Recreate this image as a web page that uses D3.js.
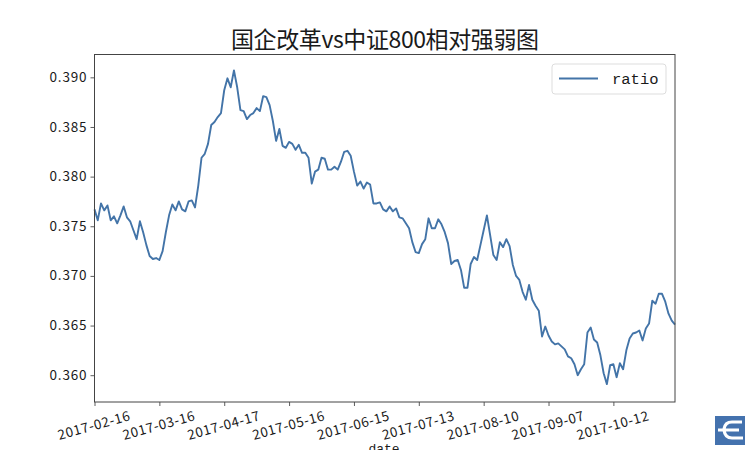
<!DOCTYPE html>
<html>
<head>
<meta charset="utf-8">
<script src="https://cdn.jsdelivr.net/npm/d3@7"></script>
<style>
  html, body { margin: 0; padding: 0; background: #fff; overflow: hidden; }
  text { fill: #1a1a1a; }
</style>
</head>
<body>
<div id="chart"></div>
<script>
const chartTitle = "国企改革vs中证800相对强弱图";
const seriesName = "ratio";
const xAxisName = "date";

// every 20th trading day gets a label
const tickDates = ["2017-02-16", "2017-03-16", "2017-04-17", "2017-05-16", "2017-06-15",
    "2017-07-13", "2017-08-10", "2017-09-07", "2017-10-12"];
const yTicks = [0.360, 0.365, 0.370, 0.375, 0.380, 0.385, 0.390];

const ratio = [
    .3767, .3756, .3773, .3766, .3771, .3756, .3760, .3753, .3761, .3770,
    .3759, .3755, .3746, .3737, .3755, .3744, .3731, .3720, .3717, .3718,
    .3716, .3725, .3744, .3761, .3772, .3766, .3775, .3767, .3765, .3775,
    .3776, .3769, .3791, .3819, .3823, .3833, .3852, .3855, .3860, .3864,
    .3887, .3899, .3890, .3907, .3890, .3867, .3866, .3858, .3862, .3864,
    .3869, .3866, .3881, .3880, .3872, .3856, .3836, .3848, .3831, .3829,
    .3835, .3833, .3827, .3832, .3824, .3824, .3819, .3793, .3805, .3807,
    .3819, .3818, .3807, .3807, .3810, .3807, .3815, .3825, .3826, .3821,
    .3805, .3791, .3795, .3788, .3794, .3792, .3773, .3773, .3774, .3767,
    .3765, .3770, .3765, .3768, .3759, .3758, .3753, .3748, .3734, .3724,
    .3723, .3732, .3737, .3758, .3748, .3748, .3757, .3752, .3744, .3733,
    .3712, .3715, .3716, .3706, .3688, .3688, .3712, .3719, .3716, .3731,
    .3746, .3761, .3741, .3721, .3716, .3734, .3729, .3737, .3730, .3711,
    .3700, .3696, .3684, .3676, .3691, .3676, .3670, .3665, .3639, .3649,
    .3640, .3634, .3631, .3632, .3629, .3626, .3619, .3617, .3611, .3600,
    .3606, .3611, .3643, .3648, .3636, .3633, .3620, .3602, .3591, .3610,
    .3611, .3598, .3612, .3606, .3625, .3637, .3642, .3643, .3645, .3635,
    .3647, .3652, .3675, .3672, .3682, .3682, .3674, .3662, .3655, .3651
];

const width = 750, height = 450;
const margin = {top: 54.5, right: 75, bottom: 48, left: 94.5};
const tickStep = 20;
const lineColor = "#4374a8";
const labelFont = "'Noto Sans CJK SC', sans-serif";
const monoFont = "'Liberation Mono', monospace";

const svg = d3.select("#chart").append("svg")
    .attr("width", width)
    .attr("height", height)
    .style("display", "block");

const x = d3.scaleLinear()
    .domain([0, ratio.length - 1])
    .range([margin.left, width - margin.right]);

const y = d3.scaleLinear()
    .domain([0.3573, 0.3923])
    .range([height - margin.bottom, margin.top]);

// line
const line = d3.line()
    .x((d, i) => x(i))
    .y(d => y(d));

svg.append("path")
    .datum(ratio)
    .attr("fill", "none")
    .attr("stroke", lineColor)
    .attr("stroke-width", 1.9)
    .attr("stroke-linejoin", "round")
    .attr("d", line);

// axes
const xAxis = d3.axisBottom(x)
    .tickValues(tickDates.map((d, i) => i * tickStep))
    .tickFormat((d, i) => tickDates[i])
    .tickSize(4)
    .tickSizeOuter(0);

const gx = svg.append("g")
    .attr("transform", `translate(0,${height - margin.bottom})`)
    .call(xAxis);

gx.selectAll("text")
    .attr("font-family", labelFont)
    .attr("font-size", 13.5)
    .attr("text-anchor", "middle")
    .attr("textLength", 74)
    .attr("lengthAdjust", "spacing")
    .attr("y", 0)
    .attr("dy", 0)
    .attr("transform", "translate(0,28) rotate(-15.5)");

const yAxis = d3.axisLeft(y)
    .tickValues(yTicks)
    .tickFormat(d3.format(".3f"))
    .tickSize(4)
    .tickSizeOuter(0);

const gy = svg.append("g")
    .attr("transform", `translate(${margin.left},0)`)
    .call(yAxis);

gy.selectAll("text")
    .attr("font-family", labelFont)
    .attr("font-size", 13.5)
    .attr("textLength", 37)
    .attr("lengthAdjust", "spacing")
    .attr("x", -8)
    .attr("dy", "0.3em");

svg.selectAll(".domain").remove();
svg.selectAll(".tick line").attr("stroke", "#333").attr("stroke-width", 0.8);

// frame
svg.append("rect")
    .attr("x", margin.left)
    .attr("y", margin.top)
    .attr("width", width - margin.left - margin.right)
    .attr("height", height - margin.top - margin.bottom)
    .attr("fill", "none")
    .attr("stroke", "#444")
    .attr("stroke-width", 1);

// title
svg.append("text")
    .attr("x", 385)
    .attr("y", 47.5)
    .attr("text-anchor", "middle")
    .attr("font-family", labelFont)
    .attr("font-size", 23)
    .attr("textLength", 308)
    .attr("lengthAdjust", "spacing")
    .text(chartTitle);

// x label runs off the window edge, as in the original
svg.append("text")
    .attr("x", 384)
    .attr("y", 453)
    .attr("text-anchor", "middle")
    .attr("font-family", monoFont)
    .attr("font-size", 13)
    .text(xAxisName);

// legend
const legend = svg.append("g").attr("transform", "translate(552,64)");

legend.append("rect")
    .attr("width", 114)
    .attr("height", 30)
    .attr("rx", 3)
    .attr("fill", "#fff")
    .attr("stroke", "#ddd");

legend.append("line")
    .attr("x1", 7)
    .attr("x2", 46)
    .attr("y1", 14.5)
    .attr("y2", 14.5)
    .attr("stroke", lineColor)
    .attr("stroke-width", 1.9);

legend.append("text")
    .attr("x", 60)
    .attr("y", 20)
    .attr("font-family", monoFont)
    .attr("font-size", 15.5)
    .text(seriesName);

// watermark logo
const logo = svg.append("g").attr("transform", "translate(715,416)");

logo.append("rect")
    .attr("width", 30)
    .attr("height", 29)
    .attr("fill", "#4472ae");

logo.append("path")
    .attr("d", "M9,13 Q10,6 17,6 L27,6 M3,14 L24,14 M9,14 Q10,22 17,22 L28,22")
    .attr("fill", "none")
    .attr("stroke", "#fff")
    .attr("stroke-width", 3.2);
</script>
</body>
</html>
